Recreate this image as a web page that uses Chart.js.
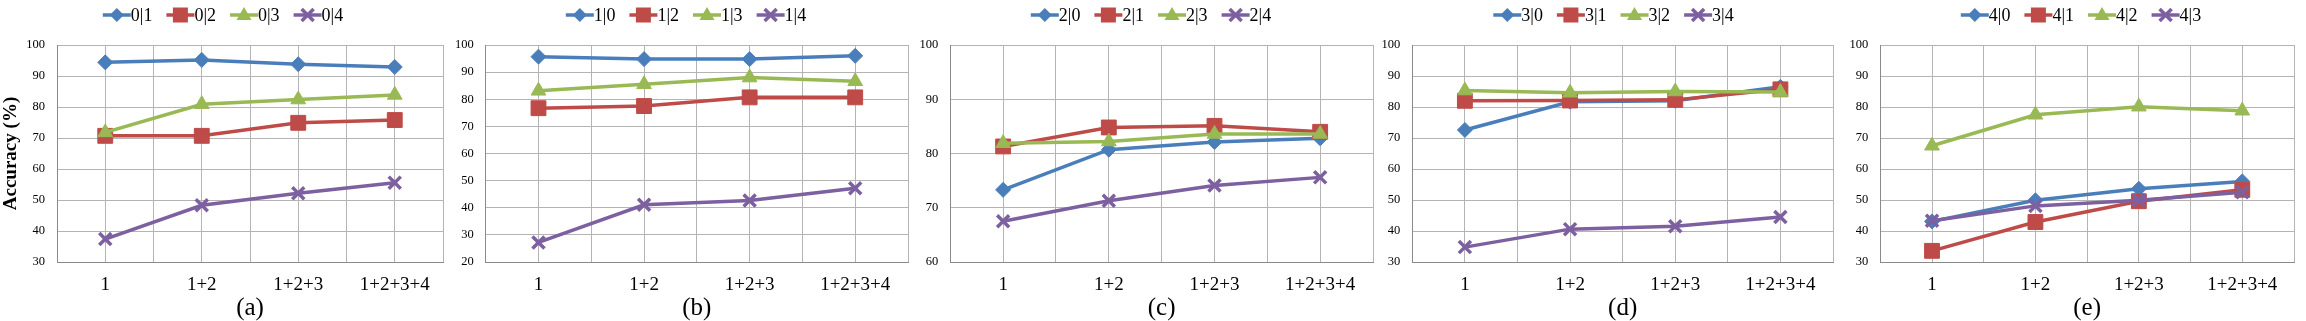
<!DOCTYPE html>
<html>
<head>
<meta charset="utf-8">
<script src="https://cdn.jsdelivr.net/npm/chart.js@4.4.1/dist/chart.umd.min.js"></script>
<style>
  html, body { margin: 0; padding: 0; background: #fff; }
  #wrap { position: relative; width: 2306px; height: 321px; overflow: hidden; }
  #wrap canvas { position: absolute; top: 0; }
</style>
</head>
<body>
<div id="wrap"></div>
<script>
// x categories shared by all five panels
const categories = ['1', '1+2', '1+2+3', '1+2+3+4'];

// (a)
const namesA = ['0|1', '0|2', '0|3', '0|4'];
const valuesA = [
  [94.4, 95.2, 93.8, 92.9],
  [70.7, 70.7, 74.9, 75.8],
  [71.8, 80.9, 82.4, 83.9],
  [37.4, 48.3, 52.2, 55.6]
];
// (b)
const namesB = ['1|0', '1|2', '1|3', '1|4'];
const valuesB = [
  [95.7, 94.8, 94.8, 96.0],
  [76.7, 77.5, 80.7, 80.7],
  [83.1, 85.5, 88.0, 86.6],
  [27.2, 41.1, 42.7, 47.2]
];
// (c)
const namesC = ['2|0', '2|1', '2|3', '2|4'];
const valuesC = [
  [73.3, 80.7, 82.1, 82.8],
  [81.3, 84.8, 85.1, 84.0],
  [81.9, 82.2, 83.6, 83.6],
  [67.5, 71.3, 74.1, 75.6]
];
// (d)
const namesD = ['3|0', '3|1', '3|2', '3|4'];
const valuesD = [
  [72.6, 81.7, 82.0, 86.5],
  [82.0, 82.1, 82.3, 85.7],
  [85.3, 84.6, 85.0, 84.8],
  [34.8, 40.6, 41.5, 44.5]
];
// (e)
const namesE = ['4|0', '4|1', '4|2', '4|3'];
const valuesE = [
  [43.1, 49.9, 53.6, 56.0],
  [33.6, 42.9, 49.6, 53.3],
  [67.5, 77.5, 80.1, 78.8],
  [43.3, 48.1, 49.9, 52.5]
];

// y ranges per panel
const yRanges = [[30, 100], [20, 100], [60, 100], [30, 100], [30, 100]];
const panelTitles = ['(a)', '(b)', '(c)', '(d)', '(e)'];

const colors = ['#4a7ebb', '#be4b48', '#98b954', '#7d60a0'];
const styles = ['rectRot', 'rect', 'triangle', 'crossRot'];
const radii = [7.5, 10.5, 8.5, 8.5];

const serif = "'Liberation Serif', 'Times New Roman', serif";

// canvas placement: left, width, padRight, y-axis width, legend centre
const layout = [
  { left: 0,    width: 455, padR: 8,   yW: 57,   legX: 223 },
  { left: 453,  width: 467, padR: 9.3, yW: 32.7, legX: 233 },
  { left: 918,  width: 467, padR: 9.7, yW: 32.3, legX: 233 },
  { left: 1380, width: 465, padR: 7.3, yW: 32.3, legX: 233.5 },
  { left: 1848, width: 458, padR: 0.3, yW: 32.3, legX: 233 }
];

function drawMarker(ctx, style, x, y, color) {
  ctx.save();
  ctx.fillStyle = color;
  ctx.strokeStyle = color;
  ctx.beginPath();
  if (style === 'rectRot') {
    ctx.moveTo(x, y - 7); ctx.lineTo(x + 7, y); ctx.lineTo(x, y + 7); ctx.lineTo(x - 7, y);
    ctx.closePath(); ctx.fill();
  } else if (style === 'rect') {
    ctx.rect(x - 7.5, y - 7.5, 15, 15); ctx.fill();
  } else if (style === 'triangle') {
    ctx.moveTo(x, y - 8); ctx.lineTo(x + 7.5, y + 5); ctx.lineTo(x - 7.5, y + 5);
    ctx.closePath(); ctx.fill();
  } else {
    ctx.lineWidth = 3.5;
    ctx.moveTo(x - 6, y - 6); ctx.lineTo(x + 6, y + 6);
    ctx.moveTo(x + 6, y - 6); ctx.lineTo(x - 6, y + 6);
    ctx.stroke();
  }
  ctx.restore();
}

// Excel style legend: short line with marker, then the name
const legendRow = {
  id: 'legendRow',
  afterDraw(chart, args, opts) {
    const ctx = chart.ctx;
    ctx.save();
    ctx.font = '18px ' + serif;
    ctx.textBaseline = 'middle';
    const lineLen = 28, gap = 14;
    const sets = chart.data.datasets;
    let total = 0;
    sets.forEach((ds, i) => {
      total += lineLen + ctx.measureText(ds.label).width + (i ? gap : 0);
    });
    let x = opts.centerX - total / 2;
    const y = opts.y;
    sets.forEach((ds, i) => {
      ctx.strokeStyle = ds.borderColor;
      ctx.lineWidth = 3.5;
      ctx.beginPath();
      ctx.moveTo(x, y); ctx.lineTo(x + lineLen, y);
      ctx.stroke();
      drawMarker(ctx, styles[i], x + lineLen / 2, y, ds.borderColor);
      ctx.fillStyle = '#000';
      ctx.fillText(ds.label, x + lineLen, y + 1);
      x += lineLen + ctx.measureText(ds.label).width + gap;
    });
    ctx.restore();
  }
};

function makePanel(idx, names, values) {
  const L = layout[idx];
  const cv = document.createElement('canvas');
  cv.width = L.width;
  cv.height = 321;
  cv.style.left = L.left + 'px';
  document.getElementById('wrap').appendChild(cv);

  const datasets = names.map((name, i) => ({
    label: name,
    data: values[i].map((v, k) => ({ x: k, y: v })),
    borderColor: colors[i],
    backgroundColor: colors[i],
    borderWidth: 3.5,
    tension: 0,
    pointStyle: styles[i],
    pointRadius: radii[i],
    pointBackgroundColor: colors[i],
    pointBorderColor: colors[i],
    pointBorderWidth: styles[i] === 'crossRot' ? 3.5 : 1,
    order: names.length - i
  }));

  new Chart(cv.getContext('2d'), {
    type: 'line',
    data: { datasets },
    plugins: [legendRow],
    options: {
      responsive: false,
      animation: false,
      layout: { padding: { top: 45, bottom: 0, left: 0, right: L.padR } },
      plugins: {
        legend: { display: false },
        tooltip: { enabled: false },
        legendRow: { centerX: L.legX, y: 15 }
      },
      scales: {
        x: {
          type: 'linear',
          min: -0.5,
          max: 3.5,
          afterFit: s => { s.height = 59; },
          ticks: {
            stepSize: 0.5,
            autoSkip: false,
            maxRotation: 0,
            padding: 12,
            color: '#000',
            font: { family: serif, size: 19 },
            callback: v => {
              const r = Math.round(v);
              return Math.abs(v - r) < 1e-6 ? (categories[r] || '') : '';
            }
          },
          grid: { color: '#b4b4b4', lineWidth: 1, drawTicks: false },
          border: { color: '#8a8a8a', width: 1 },
          title: {
            display: true,
            text: panelTitles[idx],
            color: '#000',
            font: { family: serif, size: 25, lineHeight: 1 },
            padding: { top: 0, bottom: 0 }
          }
        },
        y: {
          min: yRanges[idx][0],
          max: yRanges[idx][1],
          afterFit: s => { s.width = L.yW; },
          ticks: {
            stepSize: 10,
            padding: 12,
            color: '#000',
            font: { family: serif, size: 12.5 }
          },
          grid: { color: '#b4b4b4', lineWidth: 1, drawTicks: false },
          border: { color: '#8a8a8a', width: 1 },
          title: {
            display: idx === 0,
            text: 'Accuracy (%)',
            color: '#000',
            font: { family: serif, size: 19, weight: 'bold' },
            padding: { top: 0, bottom: 0 }
          }
        }
      }
    }
  });
}

makePanel(0, namesA, valuesA);
makePanel(1, namesB, valuesB);
makePanel(2, namesC, valuesC);
makePanel(3, namesD, valuesD);
makePanel(4, namesE, valuesE);
</script>
</body>
</html>
